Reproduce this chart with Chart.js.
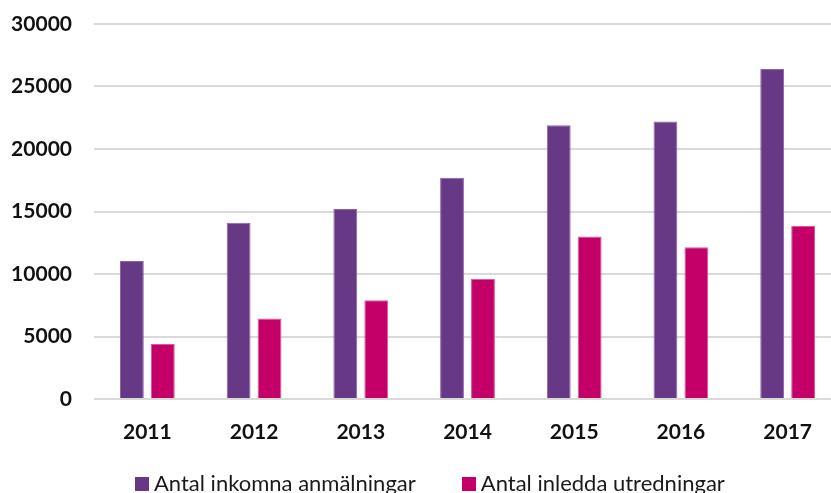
<!DOCTYPE html>
<html>
<head>
<meta charset="utf-8">
<script src="https://cdn.jsdelivr.net/npm/chart.js@4"></script>
<style>
  html, body { margin: 0; padding: 0; background: #fff; overflow: hidden; }
  #wrap { position: relative; width: 850px; height: 493px; }
  #legend { position: absolute; left: 135px; top: 472px; font-family: Lato, sans-serif;
            font-size: 22px; color: #1a1a1a; white-space: nowrap; line-height: 22px; }
  #legend span.item { display: inline-block; margin-right: 46px; }
  #legend span.box { display: inline-block; width: 14px; height: 14px; margin-right: 5px; vertical-align: baseline; }
</style>
</head>
<body>
<div id="wrap"><canvas id="myChart"></canvas><div id="legend"></div></div>
<script>
const years = ["2011", "2012", "2013", "2014", "2015", "2016", "2017"];
const inkomna = [11050, 14100, 15200, 17700, 21900, 22200, 26400];
const inledda = [4400, 6450, 7900, 9600, 13000, 12150, 13850];
const yTicks = [0, 5000, 10000, 15000, 20000, 25000, 30000];
const seriesNames = ["Antal inkomna anmälningar", "Antal inledda utredningar"];
const colors = ["#673886", "#c40068"];

const ctx = document.getElementById("myChart");
new Chart(ctx, {
  type: "bar",
  data: {
    labels: years,
    datasets: [{
      label: seriesNames[0],
      data: inkomna,
      backgroundColor: colors[0],
      borderColor: "#8a63a3",
      borderWidth: 1,
      barPercentage: 0.77,
      categoryPercentage: 0.58
    }, {
      label: seriesNames[1],
      data: inledda,
      backgroundColor: colors[1],
      borderColor: "#e0569c",
      borderWidth: 1,
      barPercentage: 0.77,
      categoryPercentage: 0.58
    }]
  },
  options: {
    responsive: true,
    maintainAspectRatio: false,
    animation: false,
    layout: { padding: { top: 24, right: 9, left: 0, bottom: 0 } },
    plugins: {
      tooltip: { enabled: false },
      legend: { display: false }
    },
    scales: {
      x: {
        grid: { display: false },
        border: { display: false },
        afterFit: axis => { axis.height = 94; },
        ticks: {
          color: "#111",
          padding: 13,
          font: { family: "Lato", size: 21, weight: "bold" }
        }
      },
      y: {
        min: 0,
        max: 30000,
        afterBuildTicks: axis => { axis.ticks = yTicks.map(v => ({ value: v })); },
        afterFit: axis => { axis.width = 94; axis.paddingTop = 0; axis.paddingBottom = 0; },
        grid: { color: "#d9d9d9", lineWidth: 2, drawTicks: false },
        border: { display: false },
        ticks: {
          color: "#111",
          padding: 22,
          callback: v => String(v),
          font: { family: "Lato", size: 21, weight: "bold" }
        }
      }
    }
  }
});

// legend in html
let out = document.getElementById("legend");
seriesNames.forEach((name, i) => {
  out.innerHTML += `<span class="item"><span class="box" style="background:${colors[i]}"></span>${name}</span>`;
});
</script>
</body>
</html>
